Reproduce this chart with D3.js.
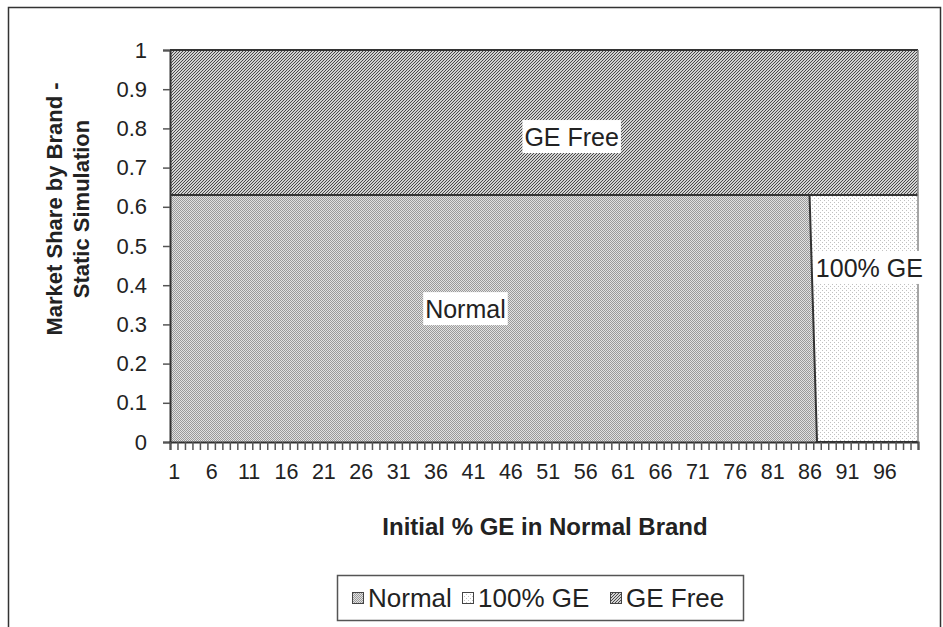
<!DOCTYPE html>
<html>
<head>
<meta charset="utf-8">
<script src="https://cdn.jsdelivr.net/npm/d3@7"></script>
<style>
  html, body { margin: 0; padding: 0; background: #fff; }
  svg { display: block; }
  text { font-family: "Liberation Sans", Arial, sans-serif; fill: #222; }
</style>
</head>
<body>
<svg id="chart" width="943" height="627"></svg>
<script>
// ---- Data ----
const categories = d3.range(1, 101);            // Initial % GE in Normal Brand: 1..100
const normalShare = categories.map(c => c <= 86 ? 0.63 : 0);
const ge100Share  = categories.map(c => c <= 86 ? 0 : 0.63);
const geFreeShare = categories.map(() => 0.37);
const seriesNames = ["Normal", "100% GE", "GE Free"];
const xTickLabels = d3.range(1, 101, 5);        // 1, 6, 11, ... 96
const yTickValues = [0, 0.1, 0.2, 0.3, 0.4, 0.5, 0.6, 0.7, 0.8, 0.9, 1];
// series-name data labels: [series, category, value]
const dataLabels = [
  { name: "GE Free", cat: 54.2, val: 0.778 },
  { name: "Normal",  cat: 40,   val: 0.339 },
  { name: "100% GE", cat: 94.0, val: 0.444 }
];

// ---- Layout ----
const plot = { left: 170, right: 918, top: 50, bottom: 442 };
const legendBox = { x: 337.5, y: 575.5, w: 406, h: 45 };
const legendItemX = [352, 462, 610];
const svg = d3.select("#chart");

// outer frame
svg.append("rect").attr("x", 8.5).attr("y", 7.5).attr("width", 932).attr("height", 660)
  .attr("fill", "#fff").attr("stroke", "#333").attr("stroke-width", 1.5);

// ---- Patterns ----
const defs = svg.append("defs");
// Normal: fine 50% checker
const pN = defs.append("pattern").attr("id", "pNormal").attr("patternUnits", "userSpaceOnUse")
  .attr("width", 2).attr("height", 2);
pN.append("rect").attr("width", 2).attr("height", 2).attr("fill", "#e2e2e2");
pN.append("rect").attr("width", 1).attr("height", 1).attr("fill", "#9a9a9a");
pN.append("rect").attr("x", 1).attr("y", 1).attr("width", 1).attr("height", 1).attr("fill", "#9a9a9a");
// 100% GE: sparse dots
const pG = defs.append("pattern").attr("id", "pGE").attr("patternUnits", "userSpaceOnUse")
  .attr("width", 4).attr("height", 4);
pG.append("rect").attr("width", 4).attr("height", 4).attr("fill", "#fff");
pG.append("rect").attr("width", 1).attr("height", 1).attr("fill", "#c0c0c0");
pG.append("rect").attr("x", 2).attr("y", 2).attr("width", 1).attr("height", 1).attr("fill", "#c0c0c0");
// GE Free: dark upward diagonal
const pF = defs.append("pattern").attr("id", "pFree").attr("patternUnits", "userSpaceOnUse")
  .attr("width", 3).attr("height", 3);
pF.append("rect").attr("width", 3).attr("height", 3).attr("fill", "#d2d2d2");
pF.append("rect").attr("x", 2).attr("y", 0).attr("width", 1).attr("height", 1).attr("fill", "#4a4a4a");
pF.append("rect").attr("x", 1).attr("y", 1).attr("width", 1).attr("height", 1).attr("fill", "#4a4a4a");
pF.append("rect").attr("x", 0).attr("y", 2).attr("width", 1).attr("height", 1).attr("fill", "#4a4a4a");
const fills = { "Normal": "url(#pNormal)", "100% GE": "url(#pGE)", "GE Free": "url(#pFree)" };

// ---- Scales ----
const x = d3.scaleLinear().domain([0.5, categories.length + 0.5]).range([plot.left, plot.right]);
const y = d3.scaleLinear().domain([0, 1]).range([plot.bottom, plot.top]);

// ---- Stacked data ----
const rows = categories.map((c, i) => ({
  cat: c, "Normal": normalShare[i], "100% GE": ge100Share[i], "GE Free": geFreeShare[i]
}));
const stacked = d3.stack().keys(seriesNames)(rows);

// extend first/last category to the plot edges (Excel area fills the whole plot)
function extendPts(layer) {
  const pts = layer.map(d => ({ pos: d.data.cat, y0: d[0], y1: d[1] }));
  const first = pts[0], last = pts[pts.length - 1];
  return [{ pos: first.pos - 0.5, y0: first.y0, y1: first.y1 }, ...pts,
          { pos: last.pos + 0.5, y0: last.y0, y1: last.y1 }];
}

const area = d3.area().x(d => x(d.pos)).y0(d => y(d.y0)).y1(d => y(d.y1));
const topLine = d3.line().x(d => x(d.pos)).y(d => y(d.y1));

const gAreas = svg.append("g");
stacked.forEach(layer => {
  gAreas.append("path").attr("d", area(extendPts(layer))).attr("fill", fills[layer.key]).attr("stroke", "none");
});
// plot area right border
svg.append("line").attr("x1", plot.right).attr("x2", plot.right).attr("y1", plot.top).attr("y2", plot.bottom)
  .attr("stroke", "#888").attr("stroke-width", 1.5);
// series outlines
stacked.forEach(layer => {
  gAreas.append("path").attr("d", topLine(extendPts(layer))).attr("fill", "none")
    .attr("stroke", "#333").attr("stroke-width", 2);
});

// ---- Axes ----
const yAxis = d3.axisLeft(y).tickValues(yTickValues).tickSize(7).tickPadding(16)
  .tickFormat(d => d3.format("")(+d.toFixed(1)));
const gy = svg.append("g").attr("transform", `translate(${plot.left},0)`).call(yAxis);
gy.select(".domain").attr("stroke", "#333").attr("stroke-width", 2);
gy.selectAll(".tick line").attr("stroke", "#555").attr("stroke-width", 1.5);
gy.selectAll(".tick text").attr("font-size", 22).attr("fill", "#222")
  .attr("font-family", "Liberation Sans, Arial, sans-serif");

// x axis: tick marks at category boundaries, labels at category centres
const boundaries = d3.range(0, categories.length + 1).map(i => i + 0.5);
const gxTicks = svg.append("g").attr("transform", `translate(0,${plot.bottom})`)
  .call(d3.axisBottom(x).tickValues(boundaries).tickSize(8).tickFormat(""));
gxTicks.select(".domain").attr("stroke", "#333").attr("stroke-width", 2);
gxTicks.selectAll(".tick line").attr("stroke", "#555").attr("stroke-width", 1.5);

const gxLab = svg.append("g").attr("transform", `translate(0,${plot.bottom})`)
  .call(d3.axisBottom(x).tickValues(xTickLabels).tickSize(0).tickPadding(22).tickFormat(d3.format("d")));
gxLab.select(".domain").remove();
gxLab.selectAll(".tick text").attr("font-size", 21.5).attr("fill", "#222")
  .attr("font-family", "Liberation Sans, Arial, sans-serif");

// ---- Titles ----
svg.append("text").attr("x", 545).attr("y", 535).attr("text-anchor", "middle")
  .attr("font-size", 24).attr("font-weight", "bold").text("Initial % GE in Normal Brand");

const yt = svg.append("text").attr("transform", "translate(0,209) rotate(-90)")
  .attr("text-anchor", "middle").attr("font-size", 22).attr("font-weight", "bold");
yt.append("tspan").attr("x", 0).attr("y", 62).text("Market Share by Brand -");
yt.append("tspan").attr("x", 0).attr("y", 89).text("Static Simulation");

// ---- Data labels ----
const gLab = svg.append("g");
dataLabels.forEach(l => {
  const g = gLab.append("g");
  const t = g.append("text").attr("x", x(l.cat)).attr("y", y(l.val))
    .attr("text-anchor", "middle").attr("dominant-baseline", "central")
    .attr("font-size", 25).text(l.name);
  const bb = t.node().getBBox();
  g.insert("rect", "text").attr("x", bb.x - 2).attr("y", bb.y - 3)
    .attr("width", bb.width + 4).attr("height", bb.height + 5).attr("fill", "#fff");
});

// ---- Legend ----
const legend = svg.append("g");
legend.append("rect").attr("x", legendBox.x).attr("y", legendBox.y).attr("width", legendBox.w).attr("height", legendBox.h)
  .attr("fill", "#fff").attr("stroke", "#555").attr("stroke-width", 1.5);
const ly = legendBox.y + legendBox.h / 2;
seriesNames.forEach((name, i) => {
  const lx = legendItemX[i];
  legend.append("rect").attr("x", lx + 0.5).attr("y", ly - 5.5).attr("width", 11).attr("height", 11)
    .attr("fill", fills[name]).attr("stroke", "#444").attr("stroke-width", 1);
  legend.append("text").attr("x", lx + 16).attr("y", ly).attr("dominant-baseline", "central")
    .attr("font-size", 26).text(name);
});
</script>
</body>
</html>
